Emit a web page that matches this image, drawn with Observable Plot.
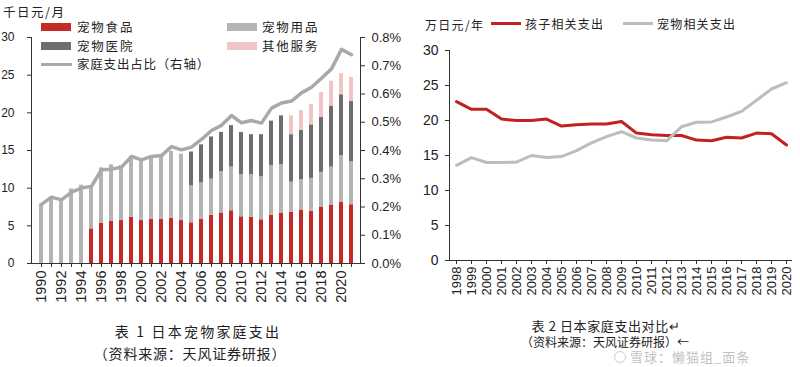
<!DOCTYPE html>
<html>
<head>
<meta charset="utf-8">
<script src="https://cdn.jsdelivr.net/npm/d3@7"></script>
<script src="https://cdn.jsdelivr.net/npm/@observablehq/plot@0.6"></script>
<style>
  html, body { margin: 0; padding: 0; background: #fff; }
  #wrap { position: relative; width: 800px; height: 367px; overflow: hidden; background: #fff;
          font-family: "Noto Sans CJK SC", "Liberation Sans", sans-serif; color: #222; }
  .abs { position: absolute; white-space: nowrap; line-height: 1; }
  .cjk { font-family: "Noto Sans CJK SC", sans-serif; }
  .sw { position: absolute; }
  #left, #right { position: absolute; top: 0; }
  #left { left: 0; } #right { left: 400px; }
</style>
</head>
<body>
<div id="wrap">
  <div id="left"></div>
  <div id="right"></div>
</div>
<script>
// ---------- Left chart data (千日元/月) ----------
const years = d3.range(1990, 2022);
const petFood     = [null,null,null,null,null,4.6,5.35,5.6,5.7,6.15,5.7,5.85,5.85,6.0,5.7,5.4,5.9,6.4,6.7,7.0,6.2,6.15,5.8,6.4,6.7,6.8,7.1,6.95,7.5,7.7,8.1,7.8];
const petSupplies = [7.9,8.8,8.6,9.9,10.4,5.6,7.35,7.5,7.3,8.05,8.1,8.25,8.35,8.9,8.8,4.9,4.8,4.8,5.5,5.8,5.6,5.65,5.7,6.6,6.4,4.0,4.0,4.35,4.6,5.1,6.2,5.7];
const petHospital = [null,null,null,null,null,null,null,null,null,null,null,null,null,null,null,4.5,5.05,5.6,5.2,5.5,5.6,5.3,5.6,5.9,6.5,6.3,6.6,7.1,7.3,8.1,8.1,8.0];
const otherServ   = [null,null,null,null,null,null,null,null,null,null,null,null,null,null,null,null,null,null,null,null,null,null,null,null,null,2.5,2.6,2.7,3.3,3.3,2.8,3.2];
const shareOfSpend = [0.209,0.235,0.225,0.253,0.267,0.273,0.332,0.334,0.341,0.379,0.367,0.379,0.382,0.414,0.402,0.412,0.439,0.471,0.489,0.524,0.498,0.506,0.497,0.550,0.568,0.575,0.604,0.624,0.656,0.689,0.758,0.739]; // % (right axis)
const seriesNames = ["宠物食品", "宠物用品", "宠物医院", "其他服务"];
const seriesColors = ["#c62a27", "#b4b4b4", "#6e6e6e", "#f2c4c4"];
const leftTicks = [0, 5, 10, 15, 20, 25, 30];
const rightTicksPct = [0, 0.1, 0.2, 0.3, 0.4, 0.5, 0.6, 0.7, 0.8];

// ---------- Right chart data (万日元/年) ----------
const years2 = d3.range(1998, 2021);
const childSpend = [22.7,21.6,21.6,20.2,20.0,20.0,20.2,19.2,19.4,19.5,19.5,19.85,18.2,17.95,17.85,17.85,17.2,17.1,17.6,17.5,18.2,18.1,16.5];
const petSpend   = [13.6,14.7,14.0,14.0,14.05,15.0,14.7,14.85,15.7,16.8,17.7,18.4,17.5,17.2,17.1,19.1,19.75,19.8,20.5,21.3,22.9,24.5,25.4];

// ---------- Build left chart ----------
const pctToLeft = 30 / 0.8;   // map right-axis % onto the left-axis domain
const barRows = [];
const arrs = [petFood, petSupplies, petHospital, otherServ];
years.forEach((yr, i) => {
  arrs.forEach((arr, k) => {
    if (arr[i] != null) barRows.push({year: yr, series: seriesNames[k], order: k, value: arr[i]});
  });
});
const lineRows = years.map((yr, i) => ({year: yr, share: shareOfSpend[i]}));

const leftPlot = Plot.plot({
  width: 400, height: 310,
  marginLeft: 31, marginRight: 40, marginTop: 37, marginBottom: 47,
  style: {fontFamily: "'Liberation Sans', Arial, sans-serif", background: "transparent", color: "#222", overflow: "visible"},
  x: {type: "band", domain: years, paddingInner: 0.6, paddingOuter: 0.3, label: null},
  y: {domain: [0, 30], label: null},
  color: {domain: seriesNames, range: seriesColors},
  marks: [
    Plot.barY(barRows, Plot.stackY({x: "year", y: "value", fill: "series", order: seriesNames})),
    Plot.line(lineRows, {x: "year", y: d => d.share * pctToLeft, stroke: "#a9a9a9", strokeWidth: 3.5, strokeLinejoin: "round"}),
    Plot.ruleY([0], {stroke: "#333", strokeWidth: 1}),
    Plot.frame({anchor: "left", stroke: "#333"}),
    Plot.frame({anchor: "right", stroke: "#333"}),
    Plot.axisY({anchor: "left", ticks: leftTicks, tickSize: 4, tickPadding: 13, fontSize: 12, label: null, stroke: "#333"}),
    Plot.axisY({anchor: "right", ticks: rightTicksPct.map(v => v * pctToLeft), tickFormat: d => (d / pctToLeft).toFixed(1) + "%", tickSize: 4, tickPadding: 7, fontSize: 13, label: null, stroke: "#333"}),
    Plot.axisX({anchor: "bottom", ticks: years, tickFormat: d => (d % 2 === 0 ? String(d) : ""), tickRotate: -90, tickSize: 4, tickPadding: 3, fontSize: 14.5, label: null, stroke: "#333"})
  ]
});
document.getElementById("left").appendChild(leftPlot);

// ---------- Build right chart ----------
const rightRows = [];
years2.forEach((yr, i) => {
  rightRows.push({year: yr, series: "孩子相关支出", v: childSpend[i]});
  rightRows.push({year: yr, series: "宠物相关支出", v: petSpend[i]});
});
const rightPlot = Plot.plot({
  width: 400, height: 310,
  marginLeft: 49, marginRight: 8, marginTop: 50, marginBottom: 50,
  style: {fontFamily: "'Liberation Sans', Arial, sans-serif", background: "transparent", color: "#222", overflow: "visible"},
  x: {type: "point", domain: years2, padding: 0, label: null},
  y: {domain: [0, 30], label: null},
  color: {domain: ["孩子相关支出", "宠物相关支出"], range: ["#c4201f", "#bdbdbd"]},
  marks: [
    Plot.line(rightRows, {x: "year", y: "v", stroke: "series", strokeWidth: 3, strokeLinejoin: "round", z: "series"}),
    Plot.ruleY([0], {stroke: "#333", strokeWidth: 1}),
    Plot.frame({anchor: "left", stroke: "#333"}),
    Plot.axisY({anchor: "left", ticks: leftTicks, tickSize: 4, tickPadding: 7, fontSize: 14, label: null, stroke: "#333"}),
    Plot.axisX({anchor: "bottom", ticks: years2, tickFormat: d => String(d), tickRotate: -90, tickSize: 4, tickPadding: 2, fontSize: 13, label: null, stroke: "#333"})
  ]
});
document.getElementById("right").appendChild(rightPlot);

// ---------- Legends, units, captions (HTML text) ----------
const wrap = document.getElementById("wrap");
function txt(s, x, y, size, opts = {}) {
  const el = document.createElement("div");
  el.className = "abs cjk";
  el.textContent = s;
  el.style.left = x + "px";
  el.style.top = (y - size / 2) + "px";
  el.style.fontSize = size + "px";
  if (opts.ls != null) el.style.letterSpacing = opts.ls + "px";
  if (opts.color) el.style.color = opts.color;
  if (opts.weight) el.style.fontWeight = opts.weight;
  if (opts.center) { el.style.transform = "translateX(-50%)"; }
  wrap.appendChild(el);
  return el;
}
function swatch(x, y, w, h, color) {
  const el = document.createElement("div");
  el.className = "sw";
  el.style.left = x + "px"; el.style.top = y + "px";
  el.style.width = w + "px"; el.style.height = h + "px";
  el.style.background = color;
  wrap.appendChild(el);
}
// left chart unit + legend
txt("千日元/月", 3, 12, 12.5, {ls: 1.5});
swatch(41, 23, 30, 8, seriesColors[0]);  txt(seriesNames[0], 77, 27, 12.5, {ls: 1.8});
swatch(41, 42, 30, 8, seriesColors[2]);  txt(seriesNames[2], 77, 46, 12.5, {ls: 1.8});
swatch(41, 63, 31, 3, "#a9a9a9");         txt("家庭支出占比（右轴）", 77, 64, 12.5, {ls: 0.8});
swatch(227, 23, 30, 8, seriesColors[1]); txt(seriesNames[1], 262, 27, 12.5, {ls: 1.8});
swatch(227, 42, 30, 8, seriesColors[3]); txt(seriesNames[3], 262, 46, 12.5, {ls: 1.8});
// right chart unit + legend
txt("万日元/年", 425, 25, 12, {ls: 1.3});
swatch(491, 22, 30, 3, "#c4201f");  txt("孩子相关支出", 525, 24, 12, {ls: 1.2});
swatch(623, 22, 30, 3, "#bdbdbd");  txt("宠物相关支出", 657, 24, 12, {ls: 1.2});
// captions
txt("表 1 日本宠物家庭支出", 198, 331, 14, {ls: 2.2, center: true});
txt("（资料来源：天风证券研报）", 190, 353, 14, {ls: 0.8, center: true});
txt("表 2 日本家庭支出对比↵", 606, 325, 13, {ls: 0.6, center: true});
txt("（资料来源：天风证券研报）←", 605, 342, 12, {ls: 0, center: true});
// watermark (kept clear of the caption lines)
const ring = document.createElement("div");
ring.className = "sw";
ring.style.left = "614px"; ring.style.top = "351px"; ring.style.width = "10px"; ring.style.height = "10px";
ring.style.border = "1.5px solid rgba(170,170,170,0.6)"; ring.style.borderRadius = "50%";
wrap.appendChild(ring);
txt("雪球：懒猫组_面条", 630, 356, 13, {color: "rgba(165,165,165,0.7)", ls: 1});
</script>
</body>
</html>
